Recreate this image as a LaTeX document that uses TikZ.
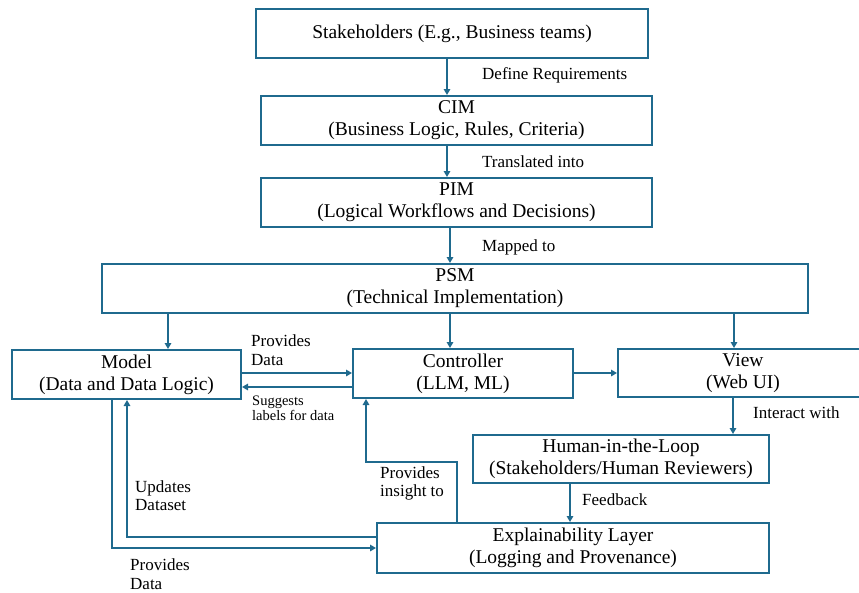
\documentclass[tikz,border=0pt]{standalone}
\usepackage{fontspec}
\setmainfont{Liberation Serif}
\usetikzlibrary{arrows.meta}
\definecolor{linkblue}{RGB}{31,106,142}
\tikzset{
  box/.style={draw=linkblue, line width=2pt, rectangle, align=center, inner sep=0pt,
              font=\fontsize{19.5}{22}\selectfont, text=black},
  arr/.style={draw=linkblue, line width=1.7pt, -{Triangle[length=6pt,width=6.5pt]}},
  lbl/.style={anchor=west, inner sep=0pt, align=left, text=black,
              font=\fontsize{17}{18.5}\selectfont},
  lblsmall/.style={lbl, font=\fontsize{14.5}{15.5}\selectfont}
}
\begin{document}
\begin{tikzpicture}[x=1pt, y=-1pt]
\useasboundingbox (0,0) rectangle (859,592);

% boxes
\node[box, minimum width=392pt, minimum height=49pt] (stake) at (452,33.5) {Stakeholders (E.g., Business teams)};
\node[box, minimum width=391pt, minimum height=49pt] (cim) at (456.5,120.5) {CIM\\(Business Logic, Rules, Criteria)};
\node[box, minimum width=391pt, minimum height=49pt] (pim) at (456.5,202.5) {PIM\\(Logical Workflows and Decisions)};
\node[box, minimum width=706pt, minimum height=49pt] (psm) at (455,288.5) {PSM\\(Technical Implementation)};
\node[box, minimum width=229pt, minimum height=49pt] (model) at (126.5,374.5) {Model\\(Data and Data Logic)};
\node[box, minimum width=220pt, minimum height=49pt] (ctrl) at (463,373.5) {Controller\\(LLM, ML)};
\node[box, minimum width=250pt, minimum height=48pt] (view) at (743,373) {View\\(Web UI)};
\node[box, minimum width=296pt, minimum height=48pt] (human) at (621,459) {Human-in-the-Loop\\(Stakeholders/Human Reviewers)};
\node[box, minimum width=392pt, minimum height=50pt] (expl) at (573,548) {Explainability Layer\\(Logging and Provenance)};

% guide coordinates for connector positions
\coordinate (xa) at (447,0);
\coordinate (xb) at (450,0);
\coordinate (xm) at (168,0);
\coordinate (xv) at (734,0);
\coordinate (xvh) at (733,0);
\coordinate (xhe) at (570,0);
\coordinate (ytop) at (0,373);
\coordinate (ybot) at (0,387);
\coordinate (insA) at (457,462);
\coordinate (insB) at (366,462);
\coordinate (updA) at (127,537);
\coordinate (pdA) at (112,548);

% vertical chain
\draw[arr] (stake.south -| xa) -- (cim.north -| xa);
\draw[arr] (cim.south -| xa) -- (pim.north -| xa);
\draw[arr] (pim.south -| xb) -- (psm.north -| xb);
\draw[arr] (psm.south -| xm) -- (model.north -| xm);
\draw[arr] (psm.south -| xb) -- (ctrl.north -| xb);
\draw[arr] (psm.south -| xv) -- (view.north -| xv);

% MVC links
\draw[arr] (model.east |- ytop) -- (ctrl.west |- ytop);
\draw[arr] (ctrl.west |- ybot) -- (model.east |- ybot);
\draw[arr] (ctrl.east |- ytop) -- (view.west |- ytop);
\draw[arr] (view.south -| xvh) -- (human.north -| xvh);
\draw[arr] (human.south -| xhe) -- (expl.north -| xhe);

% explainability loops
\draw[arr] (expl.north -| insA) -- (insA) -- (insB) -- (ctrl.south -| insB);
\draw[arr] (expl.west |- updA) -- (updA) -- (model.south -| updA);
\draw[arr] (model.south -| pdA) -- (pdA) -- (expl.west |- pdA);

% connector labels
\node[lbl] (l1) at (482,75) {Define Requirements};
\node[lbl] (l2) at (482,162) {Translated into};
\node[lbl] (l3) at (482,247) {Mapped to};
\node[lbl] (l4) at (251,350) {Provides\\Data};
\node[lblsmall] (l5) at (252,408.5) {Suggests\\labels for data};
\node[lbl] (l6) at (753,413) {Interact with};
\node[lbl] (l7) at (582,500) {Feedback};
\node[lbl] (l8) at (380,483.5) {Provides\\insight to};
\node[lbl] (l9) at (135,495.5) {Updates\\Dataset};
\node[lbl] (l10) at (130,574) {Provides\\Data};
\end{tikzpicture}
\end{document}
